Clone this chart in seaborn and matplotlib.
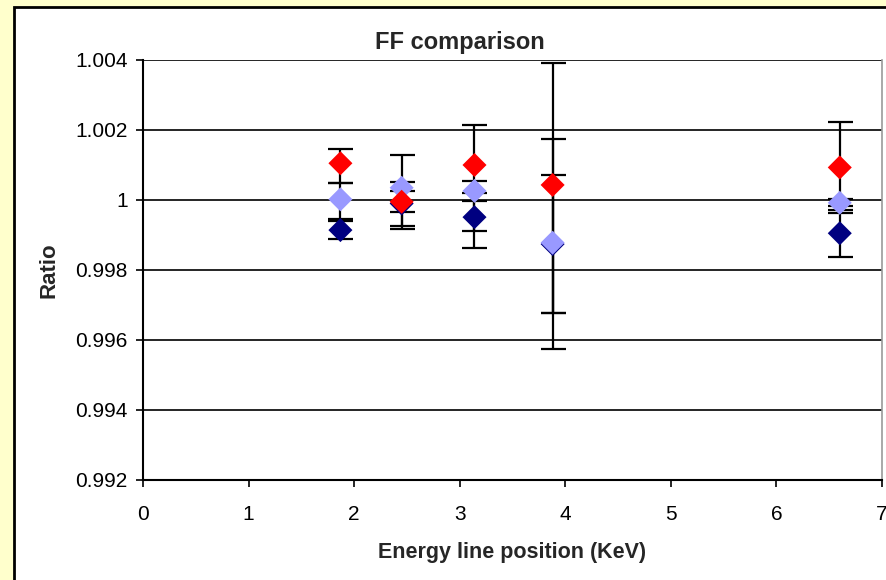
import numpy as np
import pandas as pd
import seaborn as sns
import matplotlib
matplotlib.use("Agg")
import matplotlib.pyplot as plt
from matplotlib.patches import Rectangle
from matplotlib.ticker import FuncFormatter, MultipleLocator

# ---- data ----
energy = [1.87, 2.45, 3.14, 3.88, 6.60]

navy_y = [0.99914, 0.99990, 0.99951, 0.99874, 0.99905]
navy_lo = [0.00025, 0.00074, 0.00041, 0.00198, 0.00067]
navy_hi = [0.00027, 0.00060, 0.00045, 0.00196, 0.00067]

light_y = [1.00002, 1.00035, 1.00026, 0.99878, 0.99992]
light_lo = [0.00057, 0.00109, 0.00164, 0.00202, 0.00010]
light_hi = [0.00046, 0.00094, 0.00029, 0.00295, 0.00010]

red_y = [1.00105, 0.99995, 1.00100, 1.00043, 1.00093]
red_lo = [0.00057, 0.00030, 0.00080, 0.00470, 0.00130]
red_hi = [0.00041, 0.00030, 0.00114, 0.00347, 0.00130]

series_names = ["S1", "S2", "S3"]
colors = ["#000080", "#9999FF", "#FF0000"]

title = "FF comparison"
xlabel = "Energy line position (KeV)"
ylabel = "Ratio"

sns.set_style("white")
plt.rcParams['font.family'] = ['Liberation Sans', 'DejaVu Sans']

fig = plt.figure(figsize=(8.87, 5.80), dpi=100)
fig.patch.set_facecolor("#FFFFCC")
fig.add_artist(Rectangle((14 / 887, -0.05), 1.0, (573 / 580) + 0.05,
                         transform=fig.transFigure, facecolor="white",
                         edgecolor="black", linewidth=2.0, zorder=-10))

ax = fig.add_axes([143 / 887, 100 / 580, (882 - 143) / 887, (480 - 60) / 580])
ax.set_facecolor("white")

frames = []
for name, ys, lo, hi in zip(series_names, [navy_y, light_y, red_y],
                            [navy_lo, light_lo, red_lo], [navy_hi, light_hi, red_hi]):
    frames.append(pd.DataFrame({"x": energy, "y": ys, "lo": lo, "hi": hi, "series": name}))
df = pd.concat(frames, ignore_index=True)

# error bars
for name in series_names:
    d = df[df.series == name]
    ax.errorbar(d.x, d.y, yerr=[d.lo, d.hi], fmt="none", ecolor="black",
                elinewidth=1.6, capsize=9, capthick=1.6, zorder=3)

sns.scatterplot(data=df, x="x", y="y", hue="series", palette=colors,
                hue_order=series_names, marker="D", s=150, edgecolor=None,
                linewidth=0, ax=ax, legend=False, zorder=4)

ax.set_xlim(0, 7)
ax.set_ylim(0.992, 1.004)
ax.xaxis.set_major_locator(MultipleLocator(1))
ax.yaxis.set_major_locator(MultipleLocator(0.002))
ax.yaxis.set_major_formatter(FuncFormatter(lambda v, p: "{:g}".format(round(v, 3))))

ax.grid(axis="y", color="black", linewidth=1.2, zorder=0)
ax.set_axisbelow(True)
ax.spines["top"].set_visible(False)
ax.spines["right"].set_color("#999999")
ax.spines["right"].set_linewidth(1.2)
ax.spines["left"].set_color("black")
ax.spines["left"].set_linewidth(1.5)
ax.spines["bottom"].set_color("black")
ax.spines["bottom"].set_linewidth(1.5)

ax.tick_params(axis="both", direction="out", length=5, width=1.2, color="black",
               labelsize=15, labelcolor="black")
ax.tick_params(axis="x", pad=13)
ax.tick_params(axis="y", pad=6)
ax.tick_params(left=True, bottom=True)

fig.text(460 / 887, 1 - 42 / 580, title, fontsize=17, fontweight="bold",
         ha="center", va="center")
ax.set_xlabel(xlabel, fontsize=15.5, fontweight="bold", labelpad=13)
ax.set_ylabel(ylabel, fontsize=16, fontweight="bold", labelpad=11)

fig.savefig("out.png", dpi=100, facecolor=fig.get_facecolor())
